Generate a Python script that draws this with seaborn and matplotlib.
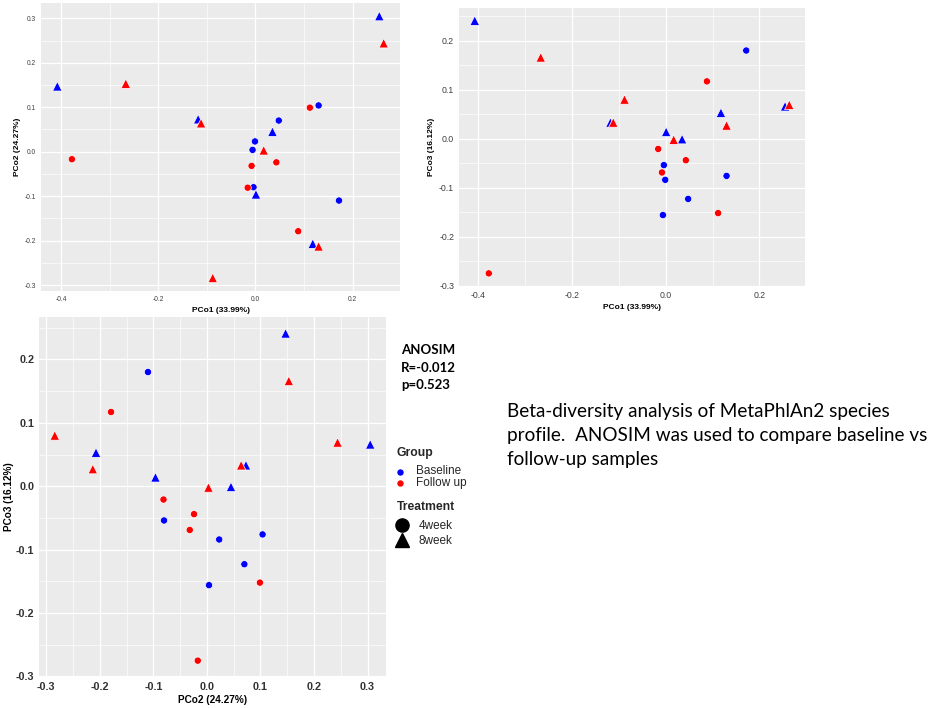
import numpy as np
import pandas as pd
import seaborn as sns
import matplotlib
matplotlib.use("Agg")
import matplotlib.pyplot as plt
from matplotlib.ticker import MultipleLocator, FormatStrFormatter
from matplotlib.lines import Line2D

# ---------------- data ----------------
group = (["Baseline"] * 6 + ["Follow up"] * 6) * 2
treatment = ["4week"] * 12 + ["8week"] * 12
pco1 = [0.172, -0.004, -0.001, 0.130, 0.048, -0.006,
        0.088, -0.016, 0.043, -0.008, 0.112, -0.378,
        -0.408, 0.118, 0.001, 0.035, -0.118, 0.255,
        -0.267, -0.088, 0.130, 0.017, -0.112, 0.264]
pco2 = [-0.110, -0.080, 0.023, 0.104, 0.070, 0.004,
        -0.179, -0.081, -0.024, -0.032, 0.099, -0.017,
        0.147, -0.207, -0.096, 0.045, 0.073, 0.305,
        0.153, -0.284, -0.213, 0.003, 0.064, 0.244]
pco3 = [0.180, -0.054, -0.084, -0.076, -0.123, -0.156,
        0.117, -0.021, -0.044, -0.069, -0.152, -0.275,
        0.241, 0.053, 0.014, -0.001, 0.033, 0.066,
        0.166, 0.080, 0.027, -0.002, 0.033, 0.069]

label1 = "PCo1 (33.99%)"
label2 = "PCo2 (24.27%)"
label3 = "PCo3 (16.12%)"
anosim_lines = ["ANOSIM", "R=-0.012", "p=0.523"]
caption_lines = ["Beta-diversity analysis of MetaPhlAn2 species",
                 "profile.  ANOSIM was used to compare baseline vs",
                 "follow-up samples"]
group_levels = ["Baseline", "Follow up"]
treat_levels = ["4week", "8week"]

df = pd.DataFrame({"Group": group, "Treatment": treatment,
                   "PCo1": pco1, "PCo2": pco2, "PCo3": pco3})

palette = {"Baseline": "#0000FF", "Follow up": "#FF0000"}
markers = {"4week": "o", "8week": "^"}
msizes = {"4week": 27, "8week": 46}

# ---------------- figure ----------------
sns.set_theme(style="white")
plt.rcParams["font.family"] = ["Liberation Sans", "DejaVu Sans"]
plt.rcParams["axes.unicode_minus"] = False

W, H = 941, 708
fig = plt.figure(figsize=(W / 100, H / 100), dpi=100)
fig.patch.set_facecolor("white")


def px_axes(left, top, right, bottom):
    return fig.add_axes([left / W, (H - bottom) / H, (right - left) / W, (bottom - top) / H])


def style_ax(ax, xmaj, ymaj, tick_fs, tick_bold, tick_color):
    ax.set_facecolor("#EBEBEB")
    for sp in ax.spines.values():
        sp.set_visible(False)
    ax.xaxis.set_major_locator(MultipleLocator(xmaj))
    ax.xaxis.set_minor_locator(MultipleLocator(xmaj / 2))
    ax.yaxis.set_major_locator(MultipleLocator(ymaj))
    ax.yaxis.set_minor_locator(MultipleLocator(ymaj / 2))
    ax.xaxis.set_major_formatter(FormatStrFormatter("%.1f"))
    ax.yaxis.set_major_formatter(FormatStrFormatter("%.1f"))
    ax.grid(True, which="major", color="white", linewidth=0.9)
    ax.grid(True, which="minor", color="white", linewidth=0.45)
    ax.set_axisbelow(True)
    ax.tick_params(which="major", length=2, width=0.5, color="#333333",
                   labelsize=tick_fs, labelcolor=tick_color, pad=1.5)
    ax.tick_params(which="minor", length=0)
    for lab in ax.get_xticklabels() + ax.get_yticklabels():
        lab.set_fontweight("bold" if tick_bold else "normal")


def draw(ax, x, y):
    sns.scatterplot(data=df, x=x, y=y, hue="Group", style="Treatment",
                    size="Treatment", sizes=msizes, size_order=treat_levels,
                    palette=palette, markers=markers, hue_order=group_levels,
                    style_order=treat_levels, edgecolor="white",
                    linewidth=0.5, legend=False, ax=ax, zorder=3)


# Panel 1: PCo1 vs PCo2
ax1 = px_axes(41, 3, 400, 291)
draw(ax1, "PCo1", "PCo2")
ax1.margins(0.05)
style_ax(ax1, 0.2, 0.1, 4.8, False, "#404040")
ax1.set_xlabel(label1, fontsize=6, fontweight="bold", color="black", labelpad=3)
ax1.set_ylabel(label2, fontsize=6, fontweight="bold", color="black", labelpad=3)

# Panel 2: PCo1 vs PCo3
ax2 = px_axes(459, 8, 805, 286)
draw(ax2, "PCo1", "PCo3")
ax2.margins(0.05)
style_ax(ax2, 0.2, 0.1, 6.3, False, "#404040")
ax2.set_xlabel(label1, fontsize=6, fontweight="bold", color="black", labelpad=3)
ax2.set_ylabel(label3, fontsize=6, fontweight="bold", color="black", labelpad=3)

# Panel 3: PCo2 vs PCo3
ax3 = px_axes(39, 317, 386, 677)
draw(ax3, "PCo2", "PCo3")
ax3.margins(0.05)
style_ax(ax3, 0.1, 0.1, 7.8, True, "#333333")
ax3.set_xlabel(label2, fontsize=7.2, fontweight="bold", color="black", labelpad=2)
ax3.set_ylabel(label3, fontsize=7.2, fontweight="bold", color="black", labelpad=1)

# ---------------- annotations / legend ----------------
ov = fig.add_axes([0, 0, 1, 1], zorder=10)
ov.set_xlim(0, W)
ov.set_ylim(H, 0)
ov.axis("off")
ov.patch.set_alpha(0)

for i, t in enumerate(anosim_lines):
    ov.text(401, 350 + i * 17.5, t, fontsize=9.5, fontweight="bold",
            family=["Lato", "DejaVu Sans"], va="center", ha="left", color="black")

for i, t in enumerate(caption_lines):
    ov.text(507, 412 + i * 24, t, fontsize=13.6,
            family=["Lato", "DejaVu Sans"], va="center", ha="left", color="black")

# Group legend
ov.text(397, 453, "Group", fontsize=8.7, fontweight="bold", va="center", ha="left")
for i, g in enumerate(group_levels):
    yy = 471.5 + i * 11.5
    ov.add_line(Line2D([400], [yy], marker="o", markersize=3.6, color=palette[g],
                       markeredgecolor=palette[g], linestyle="none"))
    ov.text(416, yy, g, fontsize=8.5, va="center", ha="left")

# Treatment legend
ov.text(397, 507, "Treatment", fontsize=8.7, fontweight="bold", va="center", ha="left")
for i, (t, m) in enumerate(zip(treat_levels, ["o", "^"])):
    yy = 525 + i * 15
    ov.add_line(Line2D([402], [yy], marker=m, markersize=9.5, color="black",
                       linestyle="none"))
    ov.text(419, yy + 1, t, fontsize=8.5, va="center", ha="left")

fig.savefig("out.png", dpi=100, facecolor="white")
